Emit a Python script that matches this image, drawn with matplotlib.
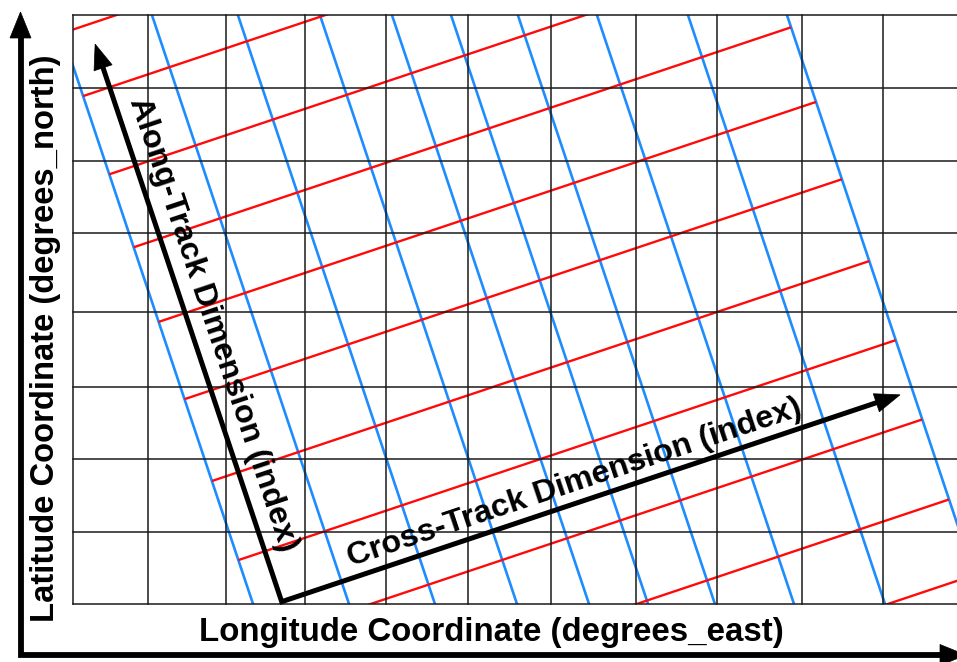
import numpy as np
import matplotlib
matplotlib.use("Agg")
import matplotlib.pyplot as plt
from matplotlib.patches import Rectangle, Polygon

plt.rcParams["font.family"] = ["Liberation Sans", "DejaVu Sans"]

W, H = 957, 662

# ---- geographic (lon/lat) grid, positions in figure pixels ----
lon_grid = [73, 148, 226, 305, 386, 468, 551, 636, 717, 802, 883]
lat_grid = [15, 88, 161, 233, 312, 387, 459, 532, 604]
box_left, box_top, box_right, box_bottom = 73, 15, 957, 604

# ---- satellite swath (rotated index grid) ----
swath_origin = (281.7, 601.7)
swath_angle_deg = 18.5
cross_track_pos = [-27.9, 63.1, 144.6, 222.4, 290.7, 346.7, 410.1, 485.1, 571.4, 665.3]
along_track_pos = [608.8, 542.5, 460.0, 383.1, 304.4, 222.9, 136.6, 53.2, -30.4, -114.8, -194.5]
along_arrow_len = 588
cross_arrow_len = 652

xlabel = "Longitude Coordinate (degrees_east)"
ylabel = "Latitude Coordinate (degrees_north)"
along_label = "Along-Track Dimension (index)"
cross_label = "Cross-Track Dimension (index)"

BLUE = "#1e8cff"
RED = "#ff0a0a"

fig = plt.figure(figsize=(W / 100, H / 100), dpi=100)
ax = fig.add_axes([0, 0, 1, 1])
ax.set_xlim(0, W)
ax.set_ylim(H, 0)
ax.axis("off")

clip = Rectangle((box_left, box_top), box_right - box_left, box_bottom - box_top,
                 transform=ax.transData, facecolor="none", edgecolor="none")

a = np.deg2rad(swath_angle_deg)
uc = np.array([np.cos(a), -np.sin(a)])      # cross-track direction (screen)
ua = np.array([-np.sin(a), -np.cos(a)])     # along-track direction (screen)
O = np.array(swath_origin)

# blue: lines of constant cross-track index
for s in cross_track_pos:
    p0 = O + s * uc + (-500) * ua
    p1 = O + s * uc + 900 * ua
    ln, = ax.plot([p0[0], p1[0]], [p0[1], p1[1]], color=BLUE, lw=1.9, zorder=2,
                  solid_capstyle="butt")
    ln.set_clip_path(clip)

# red: lines of constant along-track index
for t in along_track_pos:
    p0 = O + cross_track_pos[0] * uc + t * ua
    p1 = O + cross_track_pos[-1] * uc + t * ua
    ln, = ax.plot([p0[0], p1[0]], [p0[1], p1[1]], color=RED, lw=1.7, zorder=2,
                  solid_capstyle="butt")
    ln.set_clip_path(clip)

# geographic grid on top
for x in lon_grid:
    ax.plot([x, x], [box_top, box_bottom], color="#1a1a1a", lw=1.1, zorder=3)
for y in lat_grid:
    ax.plot([box_left, box_right], [y, y], color="#1a1a1a", lw=1.1, zorder=3)


def head(tip, direction, length, width, z=6):
    d = np.asarray(direction, float)
    d = d / np.linalg.norm(d)
    n = np.array([-d[1], d[0]])
    tip = np.asarray(tip, float)
    base = tip - d * length
    pts = [tip, base + n * width / 2, base - n * width / 2]
    ax.add_patch(Polygon(pts, closed=True, facecolor="black", edgecolor="black",
                         lw=0.5, zorder=z, clip_on=False))
    return base


# swath arrows (L shape)
along_tip = O + along_arrow_len * ua
cross_tip = O + cross_arrow_len * uc
hl, hw = 25, 19
b1 = along_tip - ua * (hl - 2)
b2 = cross_tip - uc * (hl - 2)
ax.plot([b1[0], O[0], b2[0]], [b1[1], O[1], b2[1]], color="black", lw=3.6,
        solid_joinstyle="miter", solid_capstyle="butt", zorder=5)
head(along_tip, ua, hl, hw)
head(cross_tip, uc, hl, hw)

# outer axis arrows
corner = np.array([20.5, 655.0])
v_tip = np.array([20.5, 12.0])
h_tip = np.array([966.0, 655.0])
ax.plot([v_tip[0], corner[0], h_tip[0] - 24], [v_tip[1] + 24, corner[1], h_tip[1]],
        color="black", lw=4.2, solid_joinstyle="miter", solid_capstyle="butt",
        zorder=5, clip_on=False)
head(v_tip, (0, -1), 26, 21)
head(h_tip, (1, 0), 26, 21)

# labels
ax.text(491, 632, xlabel, ha="center", va="center", fontsize=23.8,
        fontweight="bold", zorder=7)
ax.text(46, 338, ylabel, ha="center", va="center", fontsize=23.6,
        fontweight="bold", rotation=90, zorder=7)

pa = O + 284.5 * ua + 22.5 * uc
ax.text(pa[0], pa[1], along_label, ha="center", va="center", fontsize=23.3,
        fontweight="bold",
        rotation=-(90 - swath_angle_deg), rotation_mode="anchor", zorder=7)
pc = O + 315.4 * uc + 19.5 * ua
ax.text(pc[0], pc[1], cross_label, ha="center", va="center", fontsize=23.3,
        fontweight="bold",
        rotation=swath_angle_deg, rotation_mode="anchor", zorder=7)

fig.savefig("out.png", dpi=100, facecolor="white")
